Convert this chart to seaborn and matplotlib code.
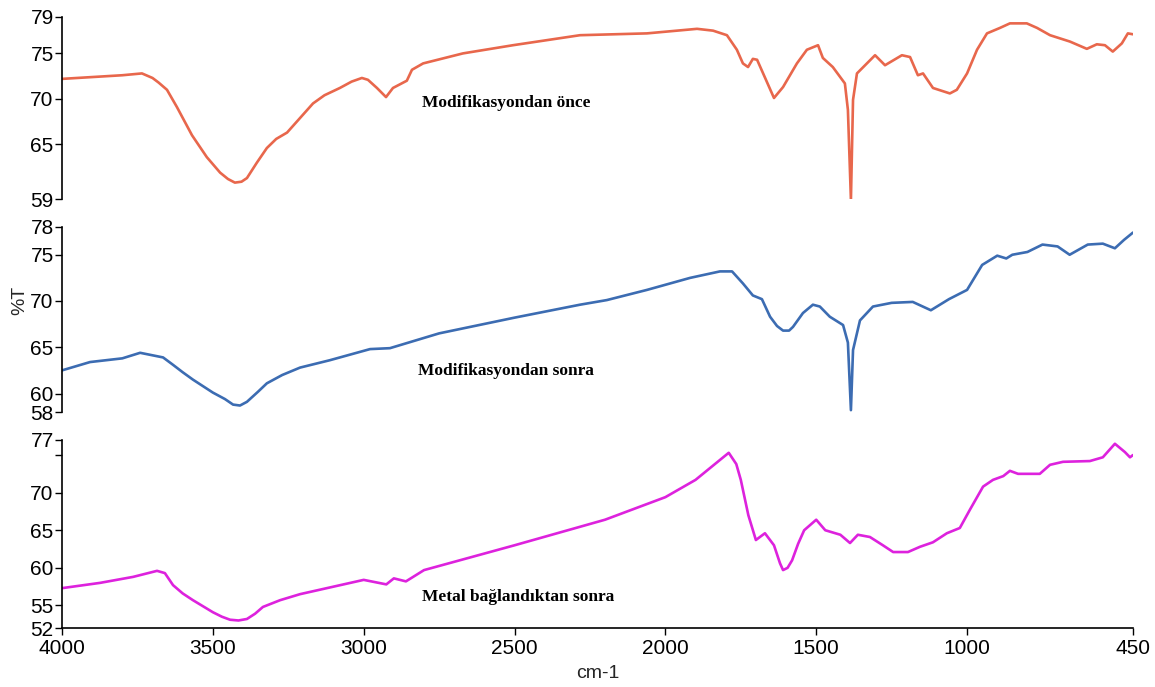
import matplotlib
matplotlib.use("Agg")
import matplotlib.pyplot as plt
import seaborn as sns
import pandas as pd

sns.set_theme(style="white")
plt.rcParams['font.family'] = ['Liberation Sans', 'DejaVu Sans']

# ---- data (wavenumber cm-1, %T) ----
wn_before = [4000, 3900, 3800, 3735, 3700, 3680, 3652, 3619, 3569, 3520, 3476, 3450, 3427,
             3405, 3387, 3354, 3321, 3290, 3254, 3211, 3168, 3130, 3079, 3040, 3006, 2986,
             2956, 2926, 2903, 2857, 2840, 2803, 2671, 2505, 2283, 2061, 1895, 1842, 1796,
             1763, 1743, 1726, 1710, 1696, 1676, 1640, 1610, 1564, 1531, 1494, 1478, 1445,
             1405, 1395, 1385, 1378, 1365, 1338, 1305, 1272, 1216, 1189, 1163, 1146, 1113,
             1057, 1034, 1000, 967, 934, 891, 858, 802, 768, 725, 659, 603, 570, 543, 517,
             487, 467, 450]
t_before = [72.2, 72.4, 72.6, 72.8, 72.3, 71.8, 71.0, 69.1, 66.0, 63.6, 61.9, 61.2, 60.8,
            60.9, 61.3, 63.0, 64.6, 65.6, 66.3, 67.9, 69.5, 70.4, 71.2, 71.9, 72.3, 72.1,
            71.2, 70.2, 71.2, 72.0, 73.2, 73.9, 75.0, 75.9, 77.0, 77.2, 77.7, 77.5, 77.0,
            75.4, 73.9, 73.5, 74.4, 74.3, 72.8, 70.1, 71.3, 73.9, 75.4, 75.9, 74.5, 73.5,
            71.7, 68.8, 58.9, 69.9, 72.8, 73.7, 74.8, 73.7, 74.8, 74.6, 72.6, 72.8, 71.2,
            70.6, 71.0, 72.8, 75.4, 77.2, 77.8, 78.3, 78.3, 77.8, 77.0, 76.3, 75.5, 76.0,
            75.9, 75.2, 76.1, 77.2, 77.1]

wn_after = [4000, 3907, 3800, 3741, 3665, 3632, 3600, 3566, 3500, 3460, 3433, 3410, 3387,
            3350, 3321, 3270, 3211, 3112, 2979, 2913, 2750, 2500, 2283, 2194, 2061, 1918,
            1819, 1779, 1743, 1710, 1680, 1653, 1630, 1610, 1590, 1577, 1544, 1511, 1488,
            1455, 1411, 1395, 1385, 1378, 1355, 1312, 1250, 1180, 1120, 1060, 1000, 950,
            900, 870, 850, 800, 750, 700, 660, 600, 550, 510, 480, 450]
t_after = [62.5, 63.4, 63.8, 64.4, 63.9, 63.1, 62.3, 61.5, 60.1, 59.4, 58.8, 58.7, 59.1,
           60.2, 61.1, 62.0, 62.8, 63.6, 64.8, 64.9, 66.5, 68.2, 69.6, 70.1, 71.2, 72.5,
           73.2, 73.2, 71.9, 70.6, 70.2, 68.3, 67.3, 66.8, 66.8, 67.2, 68.7, 69.6, 69.4,
           68.3, 67.4, 65.5, 58.2, 64.7, 67.9, 69.4, 69.8, 69.9, 69.0, 70.2, 71.2, 73.9,
           74.9, 74.6, 75.0, 75.3, 76.1, 75.9, 75.0, 76.1, 76.2, 75.7, 76.6, 77.4]

wn_metal = [4000, 3874, 3764, 3685, 3659, 3632, 3600, 3566, 3500, 3470, 3443, 3415, 3387,
            3360, 3334, 3277, 3211, 3000, 2925, 2900, 2860, 2800, 2500, 2200, 2000, 1900,
            1790, 1765, 1750, 1725, 1700, 1670, 1640, 1620, 1610, 1595, 1580, 1560, 1540,
            1500, 1470, 1420, 1388, 1362, 1322, 1279, 1245, 1196, 1156, 1113, 1067, 1024,
            991, 947, 914, 880, 858, 831, 759, 725, 682, 593, 550, 510, 477, 460, 450]
t_metal = [57.3, 58.0, 58.8, 59.6, 59.3, 57.7, 56.6, 55.7, 54.1, 53.5, 53.1, 53.0, 53.2,
           53.9, 54.8, 55.7, 56.5, 58.4, 57.8, 58.6, 58.2, 59.7, 63.0, 66.4, 69.4, 71.7,
           75.3, 73.8, 71.7, 67.0, 63.7, 64.6, 63.0, 60.6, 59.7, 60.0, 61.0, 63.2, 65.0,
           66.4, 65.0, 64.4, 63.3, 64.4, 64.1, 63.0, 62.1, 62.1, 62.8, 63.4, 64.6, 65.3,
           67.7, 70.8, 71.7, 72.2, 72.9, 72.5, 72.5, 73.7, 74.1, 74.2, 74.7, 76.5, 75.4,
           74.7, 75.0]

labels = ["Modifikasyondan önce", "Modifikasyondan sonra", "Metal bağlandıktan sonra"]
colors = ["#E8674C", "#3C6CB2", "#DD22DD"]
yticks_list = [[79, 75, 70, 65, 59], [78, 75, 70, 65, 60, 58], [77, 75, 70, 65, 60, 55, 52]]
ytick_labels = [["79", "75", "70", "65", "59"], ["78", "75", "70", "65", "60", "58"],
                ["77", "", "70", "65", "60", "55", "52"]]
xticks = [4000, 3500, 3000, 2500, 2000, 1500, 1000, 450]
label_pos = [(2807, 69.5), (2820, 62.4), (2807, 56.1)]

series = [(wn_before, t_before), (wn_after, t_after), (wn_metal, t_metal)]

W, H = 1155, 687
fig = plt.figure(figsize=(W / 100, H / 100), dpi=100)
left = 62 / W
width = (1133 - 62) / W
panels_px = [(17, 199), (227, 412), (440, 628)]

for i, ((top, bot), (wn, t)) in enumerate(zip(panels_px, series)):
    ax = fig.add_axes([left, 1 - bot / H, width, (bot - top) / H])
    df = pd.DataFrame({"wn": wn, "T": t})
    sns.lineplot(data=df, x="wn", y="T", ax=ax, color=colors[i], linewidth=1.9,
                 sort=False, estimator=None)
    ax.set_xlim(4000, 450)
    yt = yticks_list[i]
    ax.set_ylim(yt[-1], yt[0])
    ax.set_yticks(yt)
    ax.set_yticklabels(ytick_labels[i], fontsize=15)
    ax.set_xlabel("")
    ax.set_ylabel("")
    ax.set_facecolor("white")
    for s in ["top", "right"]:
        ax.spines[s].set_visible(False)
    ax.spines["left"].set_color("black")
    ax.spines["left"].set_linewidth(1.2)
    ax.tick_params(axis="y", direction="out", length=5, width=1, color="black",
                   left=True, pad=1, labelcolor="black")
    if i < 2:
        ax.spines["bottom"].set_visible(False)
        ax.set_xticks([])
    else:
        ax.spines["bottom"].set_color("black")
        ax.spines["bottom"].set_linewidth(1.2)
        ax.set_xticks(xticks)
        ax.set_xticklabels([str(x) for x in xticks], fontsize=15)
        ax.tick_params(axis="x", direction="out", length=5, width=1, color="black",
                       bottom=True, pad=3, labelcolor="black")
        ax.set_xlabel("cm-1", fontsize=14, labelpad=5)
    ax.text(label_pos[i][0], label_pos[i][1], labels[i], fontsize=12.5,
            fontweight="bold", family=["Liberation Serif", "DejaVu Serif"],
            ha="left", va="center", color="black")

fig.text(20 / W, 1 - 300 / H, "%T", rotation=90, fontsize=14, ha="center", va="center")

fig.savefig("out.png", dpi=100, facecolor="white")
